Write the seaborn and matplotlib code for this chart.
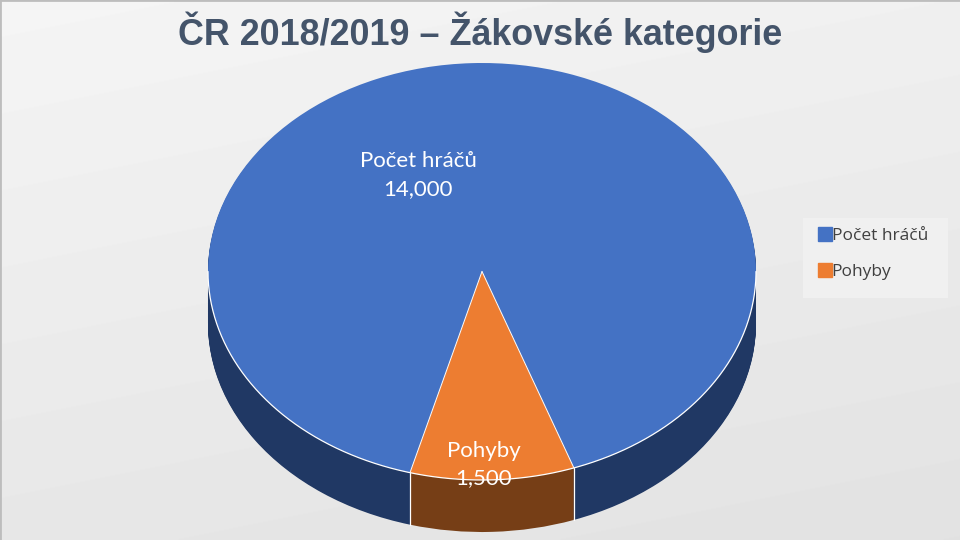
import numpy as np
import matplotlib
matplotlib.use('Agg')
import matplotlib.pyplot as plt
from matplotlib.lines import Line2D
from matplotlib.patches import Rectangle
import seaborn as sns

# Data
categories = ['Počet hráčů', 'Pohyby']
values = [14000, 1500]
value_labels = ['14,000', '1,500']
top_colors = ['#4472C4', '#ED7D31']
side_colors = ['#203864', '#763E16']

sns.set_theme(style='white')
plt.rcParams['font.family'] = ['Lato', 'DejaVu Sans']

fig = plt.figure(figsize=(9.6, 5.4), dpi=100)
ax = fig.add_axes([0, 0, 1, 1])

# pie geometry in pixels, one pie unit is rx wide and ry high
cx, cy, rx, ry, depth = 482, 271.5, 274, 208.5, 52
start = 289.6
xlim = (-cx / rx, (960 - cx) / rx)
ylim = (-(540 - cy) / ry, cy / ry)


def px(x, y):
    return (x - cx) / rx, (cy - y) / ry


# Background
yy, xx = np.mgrid[0:540, 0:960]
ax.imshow(245 - 14 * yy / 540 - 5 * xx / 960, cmap='gray', vmin=0, vmax=255,
          extent=(*xlim, *ylim), zorder=0)

# Side of the pie, stacked copies going down
for off in np.linspace(depth, 1, 60):
    ax.pie(values, colors=side_colors, startangle=start,
           center=(0, -off / ry), radius=1, frame=False,
           wedgeprops={'linewidth': 0, 'zorder': 2})

# Top of the pie
wedges, _ = ax.pie(values, colors=top_colors, startangle=start, center=(0, 0), radius=1,
                   frame=False, wedgeprops={'linewidth': 0, 'zorder': 3})

# white outline, only on the front half and around the orange slice
theta = np.radians(np.linspace(180, 360, 200))
ax.plot(np.cos(theta), np.sin(theta), color='white', lw=0.9, zorder=4)
share = values[1] / sum(values)
for ang in [start, start - share * 360]:
    x = np.cos(np.radians(ang))
    y = np.sin(np.radians(ang))
    ax.plot([0, x], [0, y], color='white', lw=0.7, zorder=4)
    ax.plot([x, x], [y, y - depth / ry], color='white', lw=0.9, zorder=4)

ax.set_aspect('auto')
ax.set_xlim(xlim)
ax.set_ylim(ylim)
ax.axis('off')

# Data labels
ax.text(*px(418, 175), categories[0] + '\n' + value_labels[0], color='white', fontsize=16,
        ha='center', va='center', linespacing=1.46, zorder=5)
ax.text(*px(484, 464.5), categories[1] + '\n' + value_labels[1], color='white', fontsize=16,
        ha='center', va='center', linespacing=1.46, zorder=5)

# Title
ax.text(*px(480, 32), 'ČR 2018/2019 – Žákovské kategorie', color='#44546A', fontsize=25.8,
        fontweight='bold', family='Liberation Sans', ha='center', va='center', zorder=5)

# Legend
ax.add_patch(Rectangle(px(803, 298), 145 / rx, 80 / ry, facecolor='#F0F0F0', edgecolor='none', zorder=5))
handles = [Line2D([], [], marker='s', linestyle='', markersize=9.4, color=c) for c in top_colors]
leg = ax.legend(handles, categories, loc='upper left', bbox_to_anchor=(816 / 960, 1 - 228 / 540),
                bbox_transform=fig.transFigure, frameon=False, labelcolor='#404040',
                handlelength=1, handletextpad=-0.1, labelspacing=1.14, borderpad=0,
                borderaxespad=0, prop={'family': 'Open Sans', 'size': 12.5})
leg.set_zorder(6)

# thin border of the slide
ax.plot([xlim[0], xlim[0], xlim[1]], [ylim[0], ylim[1], ylim[1]], color='#BDBDBD', lw=2, zorder=7)

fig.savefig('out.png', dpi=100)
